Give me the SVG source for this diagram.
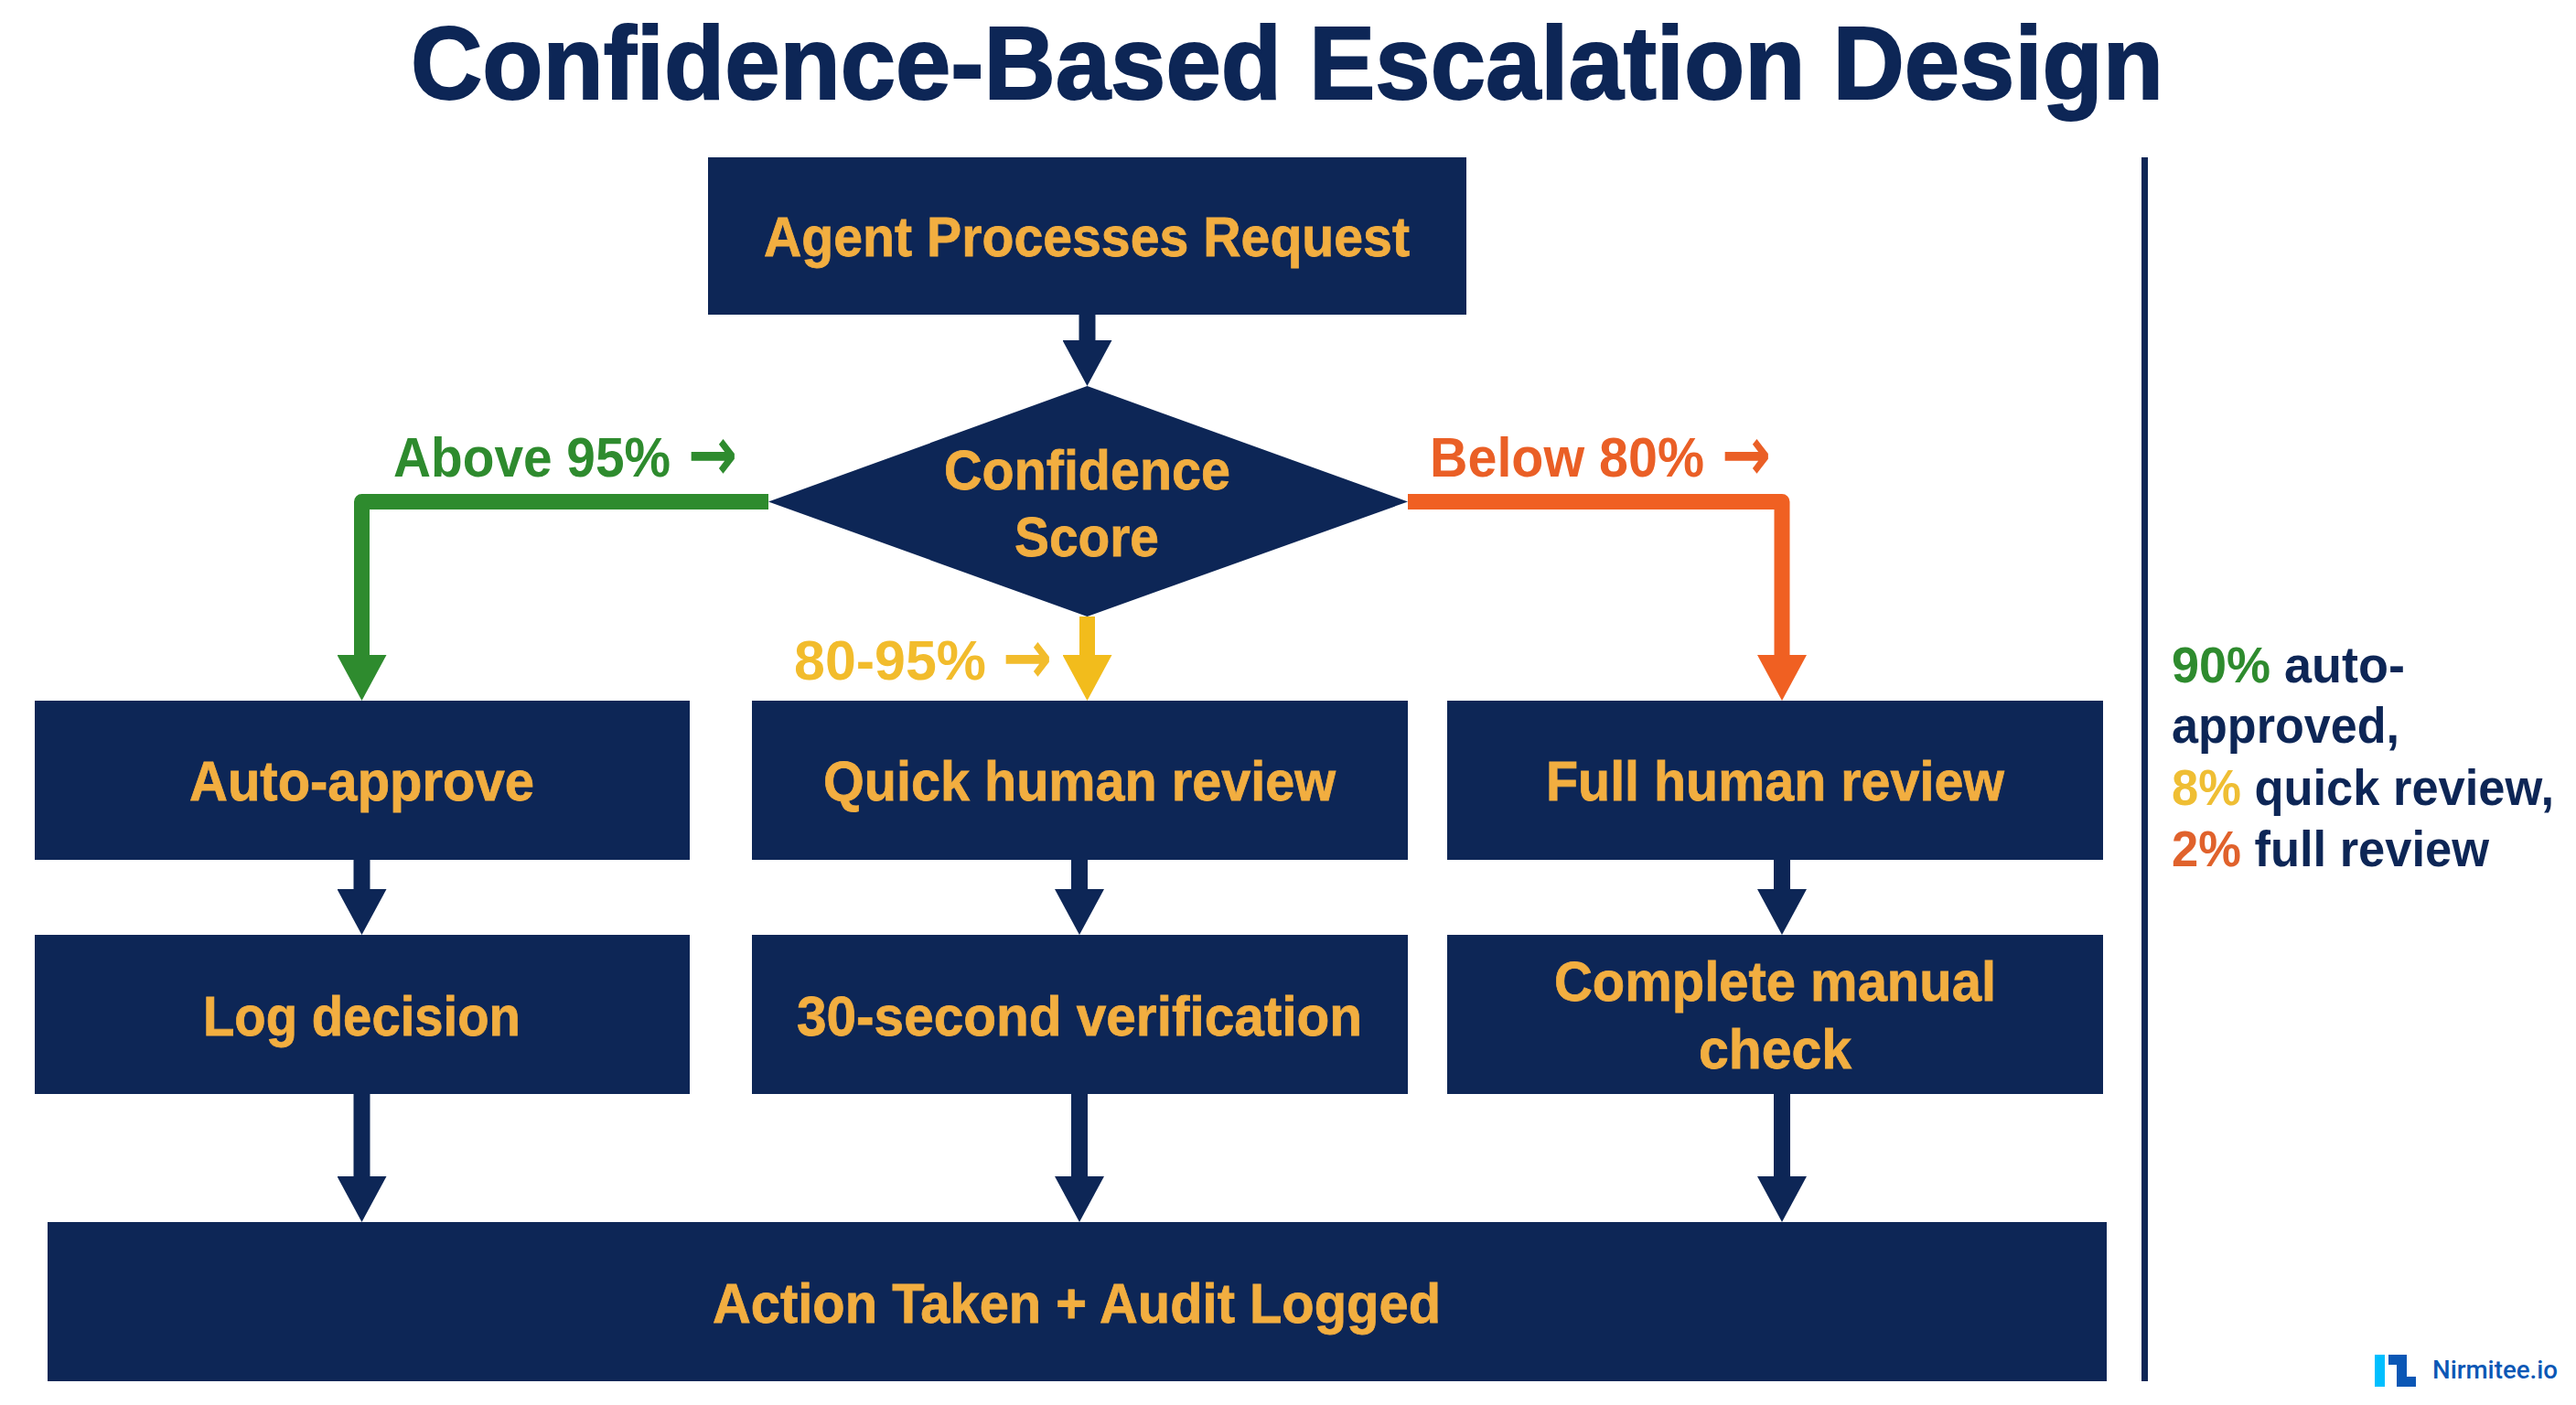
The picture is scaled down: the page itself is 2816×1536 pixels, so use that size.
<svg xmlns="http://www.w3.org/2000/svg" width="2816" height="1536" viewBox="0 0 2816 1536">
<style>
.n{fill:#0d2656}
.t{font-family:"Liberation Sans",Arial,sans-serif;font-weight:700;font-size:62px;fill:#f2ae40;stroke:#f2ae40;stroke-width:.8px}
.l{font-family:"Liberation Sans",Arial,sans-serif;font-weight:700;font-size:62px}
.a{font-family:"DejaVu Sans",sans-serif;font-weight:700;font-size:84px}
.s{font-family:"Liberation Sans",Arial,sans-serif;font-weight:700;font-size:55px;fill:#0d2656}
.navy{stroke:#0d2656;stroke-width:18;fill:none}
.c{fill:none;stroke-linejoin:round}
</style>
<defs>
<marker id="hn" markerUnits="userSpaceOnUse" markerWidth="50" markerHeight="54" refX="0" refY="27" orient="auto"><path d="M0,0L50,27L0,54Z" fill="#0d2656"/></marker>
<marker id="hg" markerUnits="userSpaceOnUse" markerWidth="50" markerHeight="54" refX="0" refY="27" orient="auto"><path d="M0,0L50,27L0,54Z" fill="#2e8b2e"/></marker>
<marker id="hy" markerUnits="userSpaceOnUse" markerWidth="50" markerHeight="54" refX="0" refY="27" orient="auto"><path d="M0,0L50,27L0,54Z" fill="#f2bc1c"/></marker>
<marker id="ho" markerUnits="userSpaceOnUse" markerWidth="50" markerHeight="54" refX="0" refY="27" orient="auto"><path d="M0,0L50,27L0,54Z" fill="#f06022"/></marker>
</defs>
<rect width="2816" height="1536" fill="#fff"/>
<text id="title" x="449" y="108" textLength="1916" lengthAdjust="spacingAndGlyphs" style="font-family:'Liberation Sans',Arial,sans-serif;font-weight:700;font-size:114px;fill:#0d2656;stroke:#0d2656;stroke-width:2px">Confidence-Based Escalation Design</text>
<g id="connectors">
<path class="navy" d="M1188.5,344V372" marker-end="url(#hn)"/>
<path class="c" stroke="#2e8b2e" stroke-width="17" d="M840,548.5H395.5V716" marker-end="url(#hg)"/>
<path class="c" stroke="#f06022" stroke-width="17" d="M1539,548.5H1948V716" marker-end="url(#ho)"/>
<path class="c" stroke="#f2bc1c" stroke-width="17" d="M1188.5,674V716" marker-end="url(#hy)"/>
<path class="navy" d="M395.5,940V972" marker-end="url(#hn)"/>
<path class="navy" d="M1180,940V972" marker-end="url(#hn)"/>
<path class="navy" d="M1948,940V972" marker-end="url(#hn)"/>
<path class="navy" d="M395.5,1195V1286" marker-end="url(#hn)"/>
<path class="navy" d="M1180,1195V1286" marker-end="url(#hn)"/>
<path class="navy" d="M1948,1195V1286" marker-end="url(#hn)"/>
</g>
<g id="node-agent"><rect class="n" x="774" y="172" width="829" height="172"/><text class="t" x="835" y="280" textLength="706" lengthAdjust="spacingAndGlyphs">Agent Processes Request</text></g>
<g id="node-confidence"><polygon class="n" points="1188.5,422 1539,548.5 1188.5,674 840,548.5"/><text class="t" x="1032" y="535" textLength="313" lengthAdjust="spacingAndGlyphs">Confidence</text><text class="t" x="1109" y="608" textLength="158" lengthAdjust="spacingAndGlyphs">Score</text></g>
<g id="node-auto"><rect class="n" x="38" y="766" width="716" height="174"/><text class="t" x="207" y="875" textLength="377" lengthAdjust="spacingAndGlyphs">Auto-approve</text></g>
<g id="node-quick"><rect class="n" x="822" y="766" width="717" height="174"/><text class="t" x="900" y="875" textLength="560" lengthAdjust="spacingAndGlyphs">Quick human review</text></g>
<g id="node-full"><rect class="n" x="1582" y="766" width="717" height="174"/><text class="t" x="1690" y="875" textLength="501" lengthAdjust="spacingAndGlyphs">Full human review</text></g>
<g id="node-log"><rect class="n" x="38" y="1022" width="716" height="174"/><text class="t" x="222" y="1132" textLength="347" lengthAdjust="spacingAndGlyphs">Log decision</text></g>
<g id="node-verify"><rect class="n" x="822" y="1022" width="717" height="174"/><text class="t" x="871" y="1132" textLength="618" lengthAdjust="spacingAndGlyphs">30-second verification</text></g>
<g id="node-manual"><rect class="n" x="1582" y="1022" width="717" height="174"/><text class="t" x="1699" y="1094" textLength="483" lengthAdjust="spacingAndGlyphs">Complete manual</text><text class="t" x="1857" y="1168" textLength="167" lengthAdjust="spacingAndGlyphs">check</text></g>
<g id="node-action"><rect class="n" x="52" y="1336" width="2251" height="174"/><text class="t" x="779" y="1446" textLength="796" lengthAdjust="spacingAndGlyphs">Action Taken + Audit Logged</text></g>
<g id="labels">
<text class="l" y="521" fill="#2e8b2e"><tspan x="430" textLength="303" lengthAdjust="spacingAndGlyphs">Above 95%</tspan> <tspan class="a" x="752" y="525" textLength="54" lengthAdjust="spacingAndGlyphs">→</tspan></text>
<text class="l" y="521" fill="#ea5f26"><tspan x="1563" textLength="300" lengthAdjust="spacingAndGlyphs">Below 80%</tspan> <tspan class="a" x="1882" y="525" textLength="54" lengthAdjust="spacingAndGlyphs">→</tspan></text>
<text class="l" y="743" fill="#f2bc2c"><tspan x="868" textLength="210" lengthAdjust="spacingAndGlyphs">80-95%</tspan> <tspan class="a" x="1096" y="747" textLength="54" lengthAdjust="spacingAndGlyphs">→</tspan></text>
</g>
<rect id="divider" class="n" x="2341" y="172" width="7" height="1338"/>
<g id="summary">
<text class="s" x="2374" y="746" textLength="255" lengthAdjust="spacingAndGlyphs"><tspan fill="#2e8b2e">90%</tspan> auto-</text>
<text class="s" x="2374" y="812" textLength="249" lengthAdjust="spacingAndGlyphs">approved,</text>
<text class="s" x="2374" y="880" textLength="418" lengthAdjust="spacingAndGlyphs"><tspan fill="#efbe34">8%</tspan> quick review,</text>
<text class="s" x="2374" y="947" textLength="347" lengthAdjust="spacingAndGlyphs"><tspan fill="#e0622c">2%</tspan> full review</text>
</g>
<g id="logo">
<rect x="2596" y="1481" width="11" height="35" fill="#00bfff"/>
<polygon points="2611,1481 2631,1481 2631,1505 2641,1505 2641,1516 2620,1516 2620,1492 2611,1492" fill="#0b57b5"/>
<text x="2659" y="1507" textLength="137" lengthAdjust="spacingAndGlyphs" style="font-family:Roboto,'Liberation Sans',sans-serif;font-weight:500;font-size:28px;fill:#0b57b5">Nirmitee.io</text>
</g>
</svg>
